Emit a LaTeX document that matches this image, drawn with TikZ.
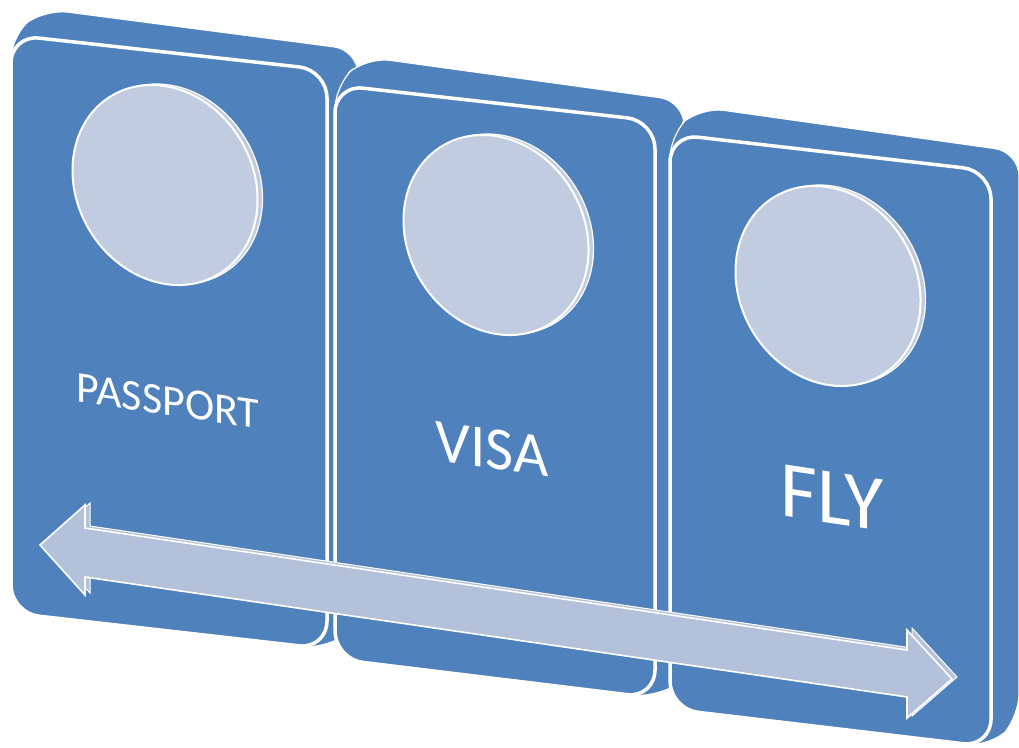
\documentclass[tikz,border=0pt]{standalone}
\usepackage{fontspec}
\setmainfont{Carlito}
\definecolor{pblue}{HTML}{4F81BD}
\definecolor{disc}{HTML}{C2CCE0}
\definecolor{arr}{HTML}{B3C1DB}
\begin{document}
\begin{tikzpicture}[x=1pt,y=-1pt,
  backface/.style={fill=pblue, draw=white, line width=1.2pt, rounded corners=24pt},
  frontface/.style={fill=pblue, draw=white, line width=3.5pt, rounded corners=28pt},
  discback/.style={fill=disc, draw=white, line width=1.2pt},
  discfront/.style={fill=disc, draw=white, line width=2pt},
  arrback/.style={fill=arr, draw=white, line width=1pt},
  arrfront/.style={fill=arr, draw=white, line width=1.6pt},
  lbl/.style={text=white, inner sep=0pt, yslant=-0.15}
]
\useasboundingbox[fill=white] (0,0) rectangle (1019,747);

% panel 1
\draw[backface] (11,35) -- (44,9) -- (358,50) -- (358,625) -- (327,649) -- (11,613) -- cycle;
\draw[frontface] (11,35) -- (327,70) -- (327,649) -- (11,613) -- cycle;
% panel 2
\draw[backface] (335,85) -- (366,57) -- (684,101) -- (684,680) -- (655,698) -- (335,659) -- cycle;
\draw[frontface] (335,85) -- (655,121) -- (655,698) -- (335,659) -- cycle;
% panel 3
\draw[backface] (670,134) -- (700,107) -- (1019,152) -- (1019,718) -- (991,747) -- (670,709) -- cycle;
\draw[frontface] (670,134) -- (991,171) -- (991,747) -- (670,709) -- cycle;

% discs
\foreach \cx/\cy in {165/185, 496/235, 828/286}{
  \begin{scope}[shift={(\cx+5,\cy-1)}, rotate=-59]
    \draw[discback] (0,0) ellipse [x radius=104, y radius=88];
  \end{scope}
  \begin{scope}[shift={(\cx,\cy)}, rotate=-59]
    \draw[discfront] (0,0) ellipse [x radius=104, y radius=88];
  \end{scope}
}

% labels
\node[lbl, font=\fontsize{44}{44}\selectfont] (passport) at (168,401) {PASSPORT};
\node[lbl, font=\fontsize{61}{61}\selectfont] (visa) at (492,449) {VISA};
\node[lbl, font=\fontsize{80}{80}\selectfont] (fly) at (832,498) {FLY};

% double arrow
\begin{scope}[shift={(5,-2)}]
\draw[arrback] (40,545) -- (85,505) -- (85,528) -- (907,650) -- (907,630) -- (952,679)
  -- (907,718) -- (907,697) -- (85,577) -- (85,595) -- cycle;
\end{scope}
\draw[arrfront] (40,545) -- (85,505) -- (85,528) -- (907,650) -- (907,630) -- (952,679)
  -- (907,718) -- (907,697) -- (85,577) -- (85,595) -- cycle;
\end{tikzpicture}
\end{document}
